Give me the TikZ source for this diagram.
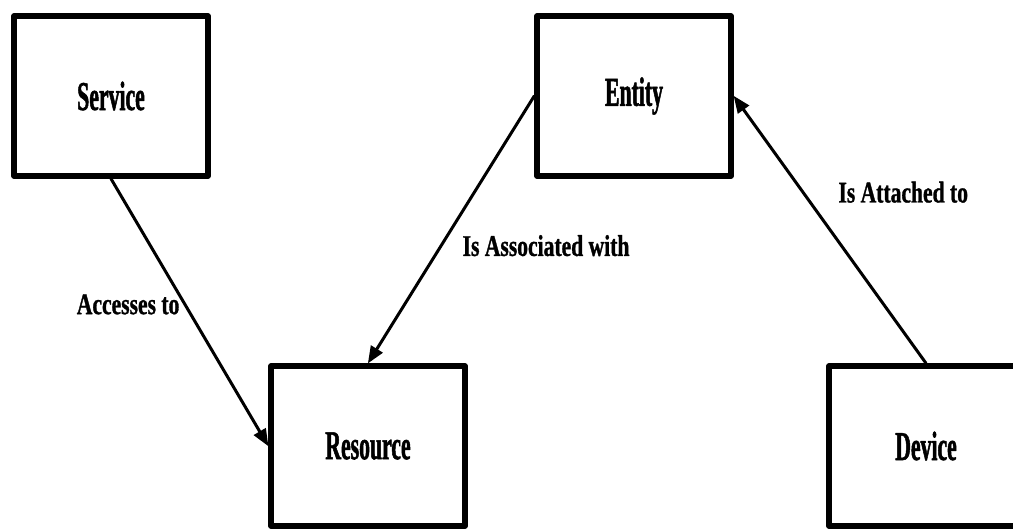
\documentclass[tikz,border=0pt]{standalone}
\usepackage{fontspec}
\usepackage{tikz}
\usetikzlibrary{arrows}
\usetikzlibrary{positioning}
\newfontfamily\boxfont[FakeStretch=0.53,FakeBold=1.2]{Liberation Serif}
\newfontfamily\relfont[FakeStretch=0.72,FakeBold=1]{Liberation Serif}
\tikzset{
  thing/.style={draw, line width=5.5pt, minimum width=194pt, minimum height=160pt,
    font=\boxfont\bfseries\fontsize{41}{41}\selectfont},
  rel/.style={->, line width=3pt},
  rellabel/.style={font=\relfont\bfseries\fontsize{30}{30}\selectfont, inner sep=0pt}
}
\begin{document}
\begin{tikzpicture}[line cap=round,line join=round,>=triangle 45,x=1pt,y=1pt]
\clip(0,0) rectangle (1013,529);
\node[thing] (service) at (111,433) {Service};
\node[thing] (entity) at (634,433) {Entity};
\node[thing] (resource) at (368,83) {Resource};
\node[thing] (device) at (926,83) {Device};
\draw [rel] (service.south) -- node[rellabel, pos=0.47, left=4pt] {Accesses to} (resource.west);
\draw [rel] (entity.west) -- node[rellabel, pos=0.56, right=20pt] {Is Associated with} (resource.north);
\draw [rel] (device.north) -- node[rellabel, pos=0.64, right=34pt] {Is Attached to} (entity.east);
\end{tikzpicture}
\end{document}
